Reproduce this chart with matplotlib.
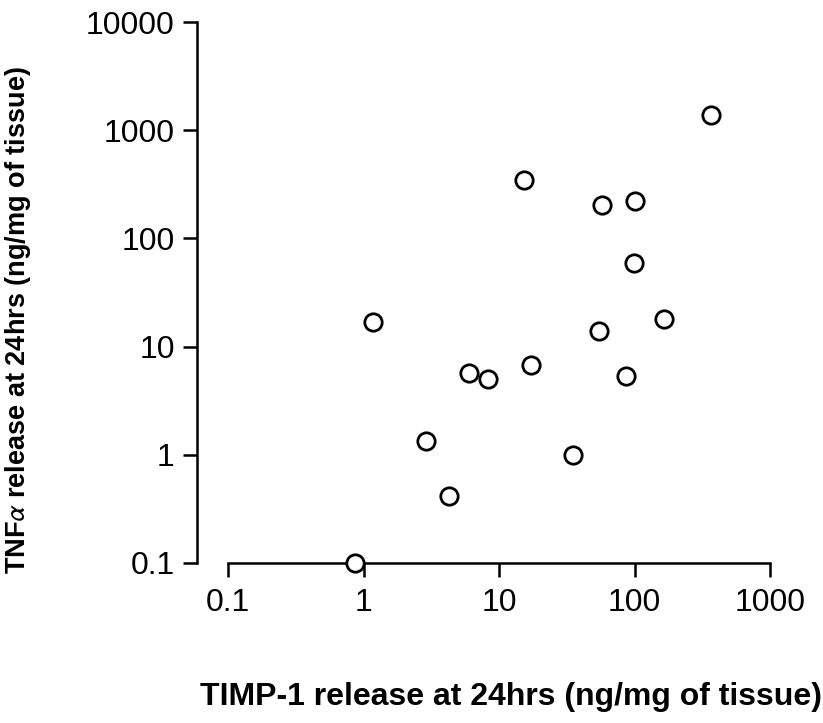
import matplotlib
matplotlib.use("Agg")
import matplotlib.pyplot as plt
from matplotlib.ticker import FixedLocator, NullLocator

# TIMP-1 vs TNF-alpha release at 24 hrs (ng/mg of tissue)
timp1 = [0.87, 1.17, 2.9, 4.3, 5.98, 8.27, 15.2, 17.3, 35.3, 54.5,
         57.8, 85.9, 99, 100, 165, 364]
tnfa = [0.1, 17.0, 1.33, 0.42, 5.67, 4.99, 344, 6.77, 1.0, 14.0,
        205, 5.39, 59, 222, 17.9, 1390]

x_ticks = [0.1, 1, 10, 100, 1000]
x_labels = ["0.1", "1", "10", "100", "1000"]
y_ticks = [0.1, 1, 10, 100, 1000, 10000]
y_labels = ["0.1", "1", "10", "100", "1000", "10000"]

plt.rcParams["font.family"] = ["Liberation Sans", "DejaVu Sans"]
plt.rcParams["mathtext.fontset"] = "stixsans"

W, H = 823, 723
fig = plt.figure(figsize=(W / 100, H / 100), dpi=100)
ax = fig.add_axes([228 / W, 1 - 563 / H, (770 - 228) / W, (563 - 22) / H])

ax.plot(timp1, tnfa, linestyle="none", marker="o", ms=12.5,
        mfc="white", mec="black", mew=2.0, clip_on=False, zorder=5)

ax.set_xscale("log")
ax.set_yscale("log")
ax.set_xlim(0.1, 1000)
ax.set_ylim(0.1, 10000)

ax.xaxis.set_major_locator(FixedLocator(x_ticks))
ax.xaxis.set_minor_locator(NullLocator())
ax.yaxis.set_major_locator(FixedLocator(y_ticks))
ax.yaxis.set_minor_locator(NullLocator())
ax.set_xticklabels(x_labels)
ax.set_yticklabels(y_labels)

for side in ["top", "right"]:
    ax.spines[side].set_visible(False)
ax.spines["left"].set_position(("outward", 22.3))
for side in ["left", "bottom"]:
    ax.spines[side].set_linewidth(1.8)
    ax.spines[side].set_color("black")

ax.tick_params(axis="both", direction="out", length=10, width=1.8,
               labelsize=23, colors="black")
ax.tick_params(axis="y", pad=6)
ax.tick_params(axis="x", pad=8)

fig.text(18 / W, 1 - 320 / H, r"TNF$\alpha$ release at 24hrs (ng/mg of tissue)",
         rotation=90, ha="center", va="center", fontsize=19.5, fontweight="bold")
fig.text(511 / W, 1 - 697 / H, "TIMP-1 release at 24hrs (ng/mg of tissue)",
         ha="center", va="center", fontsize=23, fontweight="bold")

fig.savefig("out.png", dpi=100)
